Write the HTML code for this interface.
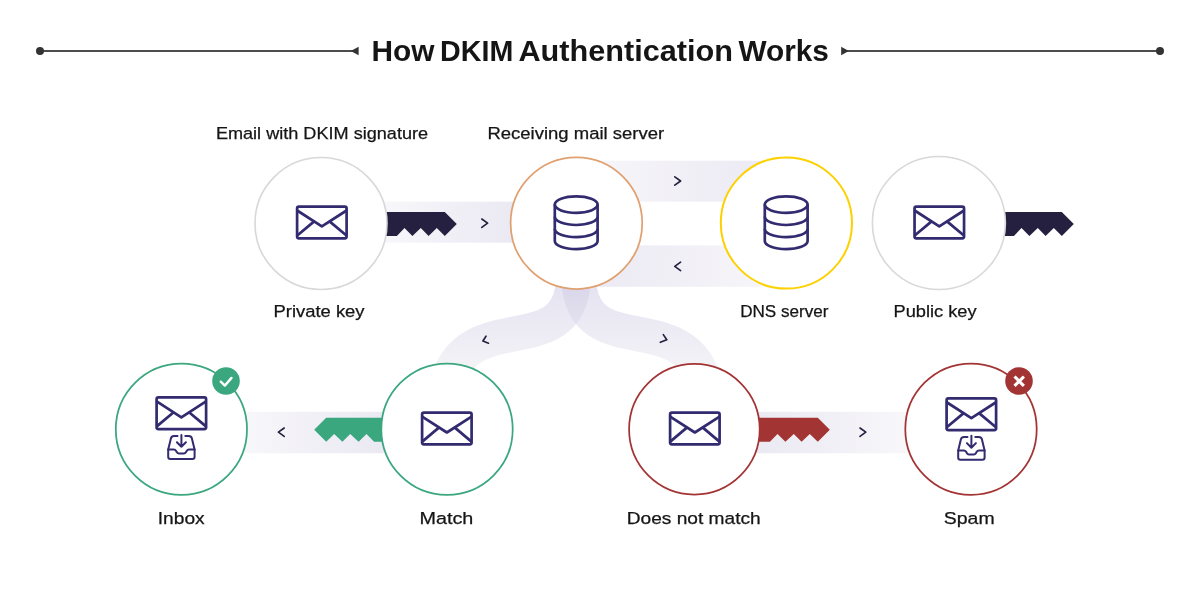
<!DOCTYPE html>
<html><head><meta charset="utf-8">
<style>
html,body{margin:0;padding:0;background:#fff;}
body{width:1200px;height:600px;overflow:hidden;position:relative;}
svg{position:absolute;left:0;top:0;will-change:transform;}
text{font-family:"Liberation Sans",sans-serif;fill:#151515;}
</style></head>
<body>
<svg width="1200" height="600" viewBox="0 0 1200 600">
<defs>
  <linearGradient id="gR" x1="0" x2="1" y1="0" y2="0">
    <stop offset="0" stop-color="#f8f7fa"/><stop offset="1" stop-color="#eae8f2"/>
  </linearGradient>
  <linearGradient id="gL" x1="0" x2="1" y1="0" y2="0">
    <stop offset="0" stop-color="#eae8f2"/><stop offset="1" stop-color="#f8f7fa"/>
  </linearGradient>
  <linearGradient id="gC" gradientUnits="userSpaceOnUse" x1="0" x2="0" y1="290" y2="362">
    <stop offset="0" stop-color="#d1cde5"/><stop offset="1" stop-color="#e7e6ef"/>
  </linearGradient>
  <g id="env" fill="none" stroke="#322b70" stroke-width="2.7" stroke-linejoin="round" stroke-linecap="round">
    <rect x="-24.75" y="-15.85" width="49.5" height="31.7" rx="1.8"/>
    <path d="M-24.3 -11.7 L0 4.0 L24.3 -11.7"/>
    <path d="M-8.3 -0.6 L-24 12.6 M8.3 -0.6 L24 12.6"/>
  </g>
  <g id="db" fill="none" stroke="#322b70" stroke-width="2.7">
    <ellipse cx="0" cy="-18" rx="21.4" ry="8.2"/>
    <path d="M-21.4 -18 V18.4 M21.4 -18 V18.4"/>
    <path d="M-21.4 -5.8 A21.4 8.2 0 0 0 21.4 -5.8"/>
    <path d="M-21.4 6.4 A21.4 8.2 0 0 0 21.4 6.4"/>
    <path d="M-21.4 18.4 A21.4 8.2 0 0 0 21.4 18.4"/>
  </g>
  <g id="tray" fill="none" stroke="#322b70" stroke-width="2" stroke-linejoin="round" stroke-linecap="round">
    <path d="M-3.9 -7.6 H-7.4 Q-9.9 -7.6 -10.5 -5.3 L-13.2 5.8 V13 Q-13.2 15.2 -11 15.2 H11 Q13.2 15.2 13.2 13 V5.8 L10.5 -5.3 Q9.9 -7.6 7.4 -7.6 H3.9"/>
    <path d="M-13.2 5.8 H-7.6 Q-6.1 5.8 -5.1 7.5 L-4.5 8.6 Q-3.8 9.9 -2.4 9.9 H2.4 Q3.8 9.9 4.5 8.6 L5.1 7.5 Q6.1 5.8 7.6 5.8 H13.2"/>
    <path d="M0 -8.8 V3 M-4.5 -1.5 L0 3.1 L4.5 -1.5"/>
  </g>
  <path id="keyR" d="M-12 0 H56.8 L68.8 12 L56.8 24 L48.8 16.2 L40.6 24 L32.8 16.2 L24.4 24 L16.5 16.2 L8.9 24 H-12 Z"/>
</defs>

<!-- title lines -->
<rect x="40" y="50" width="314" height="2" fill="#4d4d4d"/>
<circle cx="40" cy="51" r="4" fill="#333"/>
<path d="M350.8 51 L358.6 46.7 V55.3 Z" fill="#333"/>
<rect x="846" y="50" width="314" height="2" fill="#4d4d4d"/>
<circle cx="1160" cy="51" r="4" fill="#333"/>
<path d="M848.8 51 L841.2 46.7 V55.3 Z" fill="#333"/>
<g font-size="28.7" font-weight="bold" style="fill:#050505">
<text x="371.5" y="61" textLength="63.0" lengthAdjust="spacingAndGlyphs">How</text>
<text x="440.1" y="61" textLength="73.15" lengthAdjust="spacingAndGlyphs">DKIM</text>
<text x="518.4" y="61" textLength="214.63" lengthAdjust="spacingAndGlyphs">Authentication</text>
<text x="738.5" y="61" textLength="90.43" lengthAdjust="spacingAndGlyphs">Works</text>
</g>

<!-- bands -->
<rect x="380" y="201.7" width="140" height="41" fill="url(#gR)"/>
<rect x="576" y="160.7" width="210" height="41" fill="url(#gR)"/>
<rect x="576" y="245.4" width="210" height="41.4" fill="url(#gL)"/>
<rect x="240" y="411.8" width="150" height="41.45" fill="url(#gR)"/>
<rect x="750" y="411.8" width="160" height="41.45" fill="url(#gL)"/>

<!-- curved bands -->
<g fill="none" stroke-width="34.8" stroke="url(#gC)" opacity="0.55">
  <path d="M573 240 L573 260 C584.4 386.5 442.2 278.1 442.5 421"/>
</g>
<g fill="none" stroke-width="34.8" stroke="url(#gC)" opacity="0.55">
  <path d="M579 240 L579 260 C567.6 386.5 709.8 278.1 709.5 421"/>
</g>

<!-- keys -->
<use href="#keyR" x="388" y="211.9" fill="#25203f"/>
<use href="#keyR" x="1005" y="211.9" fill="#25203f"/>
<use href="#keyR" transform="translate(383 417.7) scale(-1 1)" fill="#3aa77f"/>
<use href="#keyR" transform="translate(761 417.7)" fill="#a33434"/>

<!-- circles -->
<g stroke-width="1.75" fill="#fff">
  <circle cx="321" cy="223.5" r="66" stroke="#d8d8d8" stroke-width="1.6"/>
  <circle cx="576.4" cy="223.2" r="65.8" stroke="#e0a06f"/>
  <circle cx="786.4" cy="223" r="65.6" stroke="#fdd000" stroke-width="2"/>
  <circle cx="938.9" cy="223" r="66.5" stroke="#d8d8d8" stroke-width="1.6"/>
  <circle cx="181.4" cy="429.2" r="65.6" stroke="#3aa77f"/>
  <circle cx="447" cy="429.2" r="65.7" stroke="#3aa77f"/>
  <circle cx="694.4" cy="429.2" r="65.3" stroke="#a33434"/>
  <circle cx="971" cy="429.2" r="65.7" stroke="#a33434"/>
</g>

<!-- chevrons -->
<g fill="none" stroke="#25203f" stroke-width="1.65" stroke-linecap="round" stroke-linejoin="round">
  <path d="M481.8 219 L487.6 223.2 L481.8 227.4"/>
  <path d="M674.8 176.8 L680.6 181 L674.8 185.2"/>
  <path d="M680.6 262.2 L674.8 266.4 L680.6 270.6"/>
  <path d="M284.2 428 L278.4 432.2 L284.2 436.4"/>
  <path d="M860 428 L865.8 432.2 L860 436.4"/>
  <path d="M486 336.2 L482.9 341 L488.5 343.2"/>
  <path d="M663.3 334.6 L666.8 339.8 L660.3 342.3"/>
</g>

<!-- icons -->
<use href="#env" transform="translate(321.85 222.45)"/>
<use href="#db" transform="translate(576.2 222.6)"/>
<use href="#db" transform="translate(786.2 222.6)"/>
<use href="#env" transform="translate(939.3 222.45)"/>
<use href="#env" transform="translate(181.35 413.3)"/>
<use href="#tray" transform="translate(181.4 443.7)"/>
<use href="#env" transform="translate(446.85 428.5)"/>
<use href="#env" transform="translate(694.85 428.5)"/>
<use href="#env" transform="translate(971.35 414.2)"/>
<use href="#tray" transform="translate(971.4 444.6)"/>

<!-- badges -->
<circle cx="226" cy="381" r="13.8" fill="#3aa77f"/>
<path d="M220.8 381.7 L224.8 385.6 L231.5 377.9" fill="none" stroke="#fff" stroke-width="2.4" stroke-linecap="round" stroke-linejoin="round"/>
<circle cx="1019" cy="381" r="13.8" fill="#a33434"/>
<path d="M1015.6 377.6 L1022.8 384.8 M1022.8 377.6 L1015.6 384.8" fill="none" stroke="#fff" stroke-width="3.1" stroke-linecap="square"/>

<!-- labels -->
<g font-size="16.3" style="stroke:#151515;stroke-width:0.25px">
  <text x="215.9" y="138.8" textLength="212.2" lengthAdjust="spacingAndGlyphs">Email with DKIM signature</text>
  <text x="487.4" y="138.8" textLength="176.82" lengthAdjust="spacingAndGlyphs">Receiving mail server</text>
  <text x="273.5" y="316.5" textLength="91.05" lengthAdjust="spacingAndGlyphs">Private key</text>
  <text x="740.2" y="316.5" textLength="88.33" lengthAdjust="spacingAndGlyphs">DNS server</text>
  <text x="893.5" y="316.5" textLength="83.04" lengthAdjust="spacingAndGlyphs">Public key</text>
  <text x="157.8" y="523.5" textLength="46.84" lengthAdjust="spacingAndGlyphs">Inbox</text>
  <text x="419.5" y="523.5" textLength="53.78" lengthAdjust="spacingAndGlyphs">Match</text>
  <text x="626.7" y="523.5" textLength="133.97" lengthAdjust="spacingAndGlyphs">Does not match</text>
  <text x="943.8" y="523.5" textLength="50.87" lengthAdjust="spacingAndGlyphs">Spam</text>
</g>
</svg>
</body></html>
